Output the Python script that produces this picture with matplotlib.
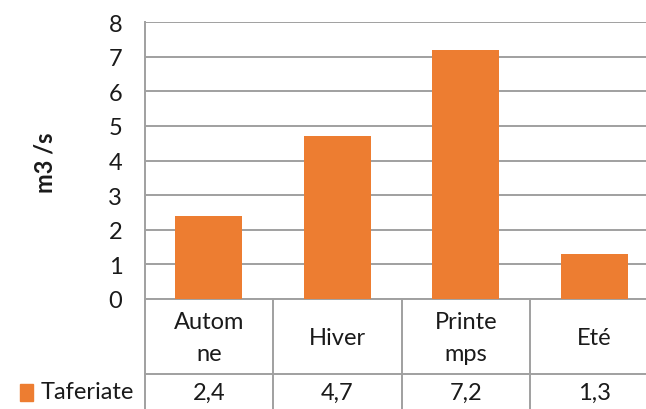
import matplotlib.pyplot as plt
from matplotlib import transforms

plt.rcParams['font.family'] = ['Lato', 'DejaVu Sans']

seasons = ['Autom\nne', 'Hiver', 'Printe\nmps', 'Eté']
debit = [2.4, 4.7, 7.2, 1.3]
value_labels = ['2,4', '4,7', '7,2', '1,3']
series_name = 'Taferiate'

W, H = 646, 410
fig = plt.figure(figsize=(W / 100, H / 100), dpi=100)

# plot area in pixels; right edge runs past the figure and gets clipped
x0, x1 = 144.5, 658.5
y_top, y_axis = 23, 300
ax = fig.add_axes([x0 / W, (H - y_axis) / H, (x1 - x0) / W, (y_axis - y_top) / H])

orange = '#ED7D31'
grid = '#A0A0A0'
ink = '#1a1a1a'
fs = 17

ax.bar(range(len(debit)), debit, width=0.52, color=orange, zorder=3)
ax.set_xlim(-0.5, len(debit) - 0.5)
ax.set_ylim(0, 8)
ax.set_yticks(range(0, 9))
ax.yaxis.grid(True, color=grid, linewidth=1.4, zorder=0)
ax.tick_params(axis='y', length=0, labelsize=fs, pad=16, colors=ink)
ax.set_xticks([])
for side in ['top', 'right']:
    ax.spines[side].set_visible(False)
for side in ['left', 'bottom']:
    ax.spines[side].set_color(grid)
    ax.spines[side].set_linewidth(1.4)

fig.text(45 / W, (H - 163) / H, 'm3 /s', rotation=90, ha='center', va='center',
         fontsize=fs, fontweight='bold', color=ink)

# data table under the axis: category row, then the series row
def fy(py):
    return (H - py) / H

trans = transforms.blended_transform_factory(ax.transData, fig.transFigure)
row_mid = 375
line_kw = dict(color=grid, linewidth=1.4, clip_on=False, transform=trans)

for b in [i - 0.5 for i in range(len(debit) + 1)]:
    ax.plot([b, b], [fy(y_axis), 0], **line_kw)
ax.plot([-0.5, len(debit) - 0.5], [fy(row_mid), fy(row_mid)], **line_kw)
ax.plot([9 / W, x0 / W], [fy(row_mid), fy(row_mid)], color=grid, linewidth=1.4,
        transform=fig.transFigure)
ax.plot([9 / W, 9 / W], [fy(row_mid), 0], color=grid, linewidth=1.4,
        transform=fig.transFigure)

for i, (s, v) in enumerate(zip(seasons, value_labels)):
    ax.text(i, fy((y_axis + row_mid) / 2 + 1), s, transform=trans, ha='center', va='center',
            fontsize=fs, color=ink, linespacing=1.6)
    ax.text(i, fy(393), v, transform=trans, ha='center', va='center',
            fontsize=fs, color=ink)

fig.patches.append(plt.Rectangle((20 / W, fy(402)), 13 / W, 17 / H, color=orange,
                                 transform=fig.transFigure))
fig.text(41 / W, fy(393), series_name, ha='left', va='center', fontsize=fs, color=ink)

fig.savefig('out.png', dpi=100)
